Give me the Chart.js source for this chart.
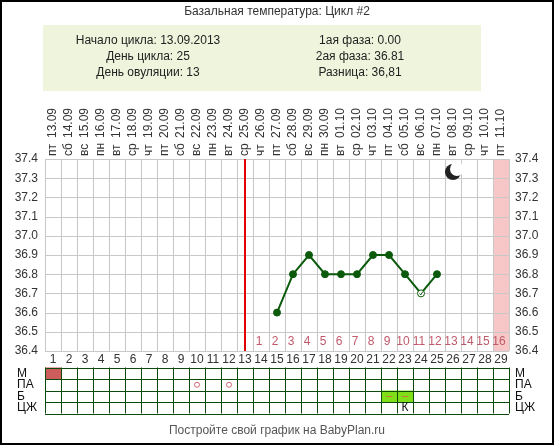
<!DOCTYPE html><html><head><meta charset="utf-8">
<script src="https://cdn.jsdelivr.net/npm/chart.js@4"></script>
<style>html,body{margin:0;padding:0;background:#fff}#w{width:554px;height:445px;position:relative}</style></head><body>
<div id="w"><canvas id="c" width="554" height="445"></canvas></div>
<script>
const days = Array.from({length:29},(_,i)=>String(i+1));
const dates = ["13.09","14.09","15.09","16.09","17.09","18.09","19.09","20.09","21.09","22.09","23.09","24.09","25.09","26.09","27.09","28.09","29.09","30.09","01.10","02.10","03.10","04.10","05.10","06.10","07.10","08.10","09.10","10.10","11.10"];
const weekdays = ["пт","сб","вс","пн","вт","ср","чт","пт","сб","вс","пн","вт","ср","чт","пт","сб","вс","пн","вт","ср","чт","пт","сб","вс","пн","вт","ср","чт","пт"];
const temps = [null,null,null,null,null,null,null,null,null,null,null,null,null,null,36.6,36.8,36.9,36.8,36.8,36.8,36.9,36.9,36.8,36.7,36.8,null,null,null,null];
const yTicks = [37.4,37.3,37.2,37.1,37.0,36.9,36.8,36.7,36.6,36.5,36.4];
const ovulationDay = 13;
const mDays = [1];
const paDays = [10,12];
const bDays = [22,23];
const czDays = {23:"К"};
const rowLabels = ["М","ПА","Б","ЦЖ"];
const infoLeft = ["Начало цикла: 13.09.2013","День цикла: 25","День овуляции: 13"];
const infoRight = ["1ая фаза: 0.00","2ая фаза: 36.81","Разница: 36,81"];
const openDays = [24];

const F = "'Liberation Sans', Arial, sans-serif";
const deco = {
  id:'deco',
  beforeDatasetsDraw(ch){
    const c=ch.ctx, x=ch.scales.x, y=ch.scales.y, a=ch.chartArea;
    const cw = x.getPixelForValue(1)-x.getPixelForValue(0);
    c.save();
    c.fillStyle='#f7c6c6';
    c.fillRect(x.getPixelForValue(28)-cw/2,a.top,cw,a.bottom-a.top);
    c.strokeStyle='#c8c8c8'; c.lineWidth=1;
    for(let i=0;i<=29;i++){const px=Math.round(x.getPixelForValue(i)-cw/2)+0.5;c.beginPath();c.moveTo(px,a.top);c.lineTo(px,a.bottom);c.stroke();}
    yTicks.forEach(v=>{const py=Math.round(y.getPixelForValue(v))+0.5;c.beginPath();c.moveTo(a.left,py);c.lineTo(a.right,py);c.stroke();});
    c.strokeStyle='#e00000'; c.lineWidth=2;
    const ox=Math.round(x.getPixelForValue(ovulationDay-1));
    c.beginPath();c.moveTo(ox,a.top);c.lineTo(ox,a.bottom);c.stroke();
    c.font='12px '+F; c.fillStyle='#c05a6a'; c.textAlign='center'; c.textBaseline='middle';
    for(let d=ovulationDay+1; d<=29; d++) c.fillText(String(d-ovulationDay), x.getPixelForValue(d-1)-2, y.getPixelForValue(36.45));
    c.restore();
  },
  afterDraw(ch){
    const c=ch.ctx, x=ch.scales.x, y=ch.scales.y, a=ch.chartArea;
    const cw = x.getPixelForValue(1)-x.getPixelForValue(0);
    c.save();
    c.strokeStyle='#000'; c.lineWidth=2; c.strokeRect(1,1,552,443);
    c.fillStyle='#333'; c.font='12px '+F; c.textAlign='center'; c.textBaseline='middle';
    c.fillText('Базальная температура: Цикл #2',277,12);
    c.fillStyle='#eef5dc'; c.fillRect(43,25,438,66);
    c.fillStyle='#222';
    infoLeft.forEach((t,i)=>c.fillText(t,148,41+i*16));
    infoRight.forEach((t,i)=>c.fillText(t,360,41+i*16));
    c.font='12px '+F; c.fillStyle='#333';
    yTicks.forEach(v=>{const py=y.getPixelForValue(v);c.textAlign='right';c.fillText(v.toFixed(1),38,py);c.textAlign='left';c.fillText(v.toFixed(1),515,py);});
    c.textAlign='center';
    days.forEach((d,i)=>c.fillText(d,x.getPixelForValue(i),360));
    dates.forEach((d,i)=>{c.save();c.translate(x.getPixelForValue(i),0);c.rotate(-Math.PI/2);c.textAlign='left';c.textBaseline='middle';c.fillText(weekdays[i],-156,0);c.fillText(d,-138,0);c.restore();});
    c.fillStyle='#222';c.beginPath();c.arc(453,172,8,0,Math.PI*2);c.fill();
    c.fillStyle='#fff';c.beginPath();c.arc(457,169,7,0,Math.PI*2);c.fill();
    const tTop=367.5, rh=11.5, tl=a.left, tr=a.right;
    mDays.forEach(d=>{c.fillStyle='#cd5c5c';c.fillRect(x.getPixelForValue(d-1)-cw/2,tTop,cw,rh);});
    bDays.forEach(d=>{c.fillStyle='#7fe01a';c.fillRect(x.getPixelForValue(d-1)-cw/2,tTop+2*rh,cw,rh);c.fillStyle='#d07030';c.fillText('–',x.getPixelForValue(d-1),tTop+2.5*rh);});
    c.strokeStyle='#0b4a0b'; c.lineWidth=1;
    for(let r=0;r<=4;r++){const py=Math.round(tTop+r*rh)+0.5;c.beginPath();c.moveTo(tl,py);c.lineTo(tr,py);c.stroke();}
    for(let i=0;i<=29;i++){const px=Math.round(x.getPixelForValue(i)-cw/2)+0.5;c.beginPath();c.moveTo(px,tTop);c.lineTo(px,tTop+4*rh);c.stroke();}
    c.strokeStyle='#d06070';
    paDays.forEach(d=>{c.beginPath();c.arc(x.getPixelForValue(d-1),tTop+1.5*rh,2.5,0,Math.PI*2);c.stroke();});
    c.fillStyle='#111';
    Object.entries(czDays).forEach(([d,t])=>c.fillText(t,x.getPixelForValue(+d-1),tTop+3.5*rh));
    c.font='12px '+F;
    rowLabels.forEach((t,i)=>{c.textAlign='left';c.fillText(t,17,tTop+(i+0.5)*rh);c.fillText(t,515,tTop+(i+0.5)*rh);});
    c.fillStyle='#555';c.textAlign='center';c.fillText('Постройте свой график на BabyPlan.ru',277,431);
    openDays.forEach(d=>{const px=x.getPixelForValue(d-1),py=y.getPixelForValue(temps[d-1]);c.strokeStyle='#0b5a0b';c.lineWidth=1;c.beginPath();c.moveTo(px-1.5,py);c.lineTo(px-0.3,py+1.5);c.lineTo(px+1.8,py-1.8);c.stroke();});
    c.restore();
  }
};
new Chart(document.getElementById('c'),{
  type:'line',
  data:{labels:days,datasets:[{data:temps,borderColor:'#0b5a0b',borderWidth:2,
    pointRadius:3.5,pointBorderWidth:1,pointBorderColor:'#0b5a0b',
    pointBackgroundColor:days.map((d,i)=>openDays.includes(i+1)?'#fff':'#0b5a0b'),spanGaps:false,tension:0}]},
  options:{responsive:false,animation:false,events:[],
    layout:{padding:{left:45,right:45,top:159,bottom:94}},
    plugins:{legend:{display:false},tooltip:{enabled:false}},
    scales:{x:{type:'category',offset:true,display:false},
            y:{min:36.4,max:37.4,display:false}}},
  plugins:[deco]
});
</script></body></html>
